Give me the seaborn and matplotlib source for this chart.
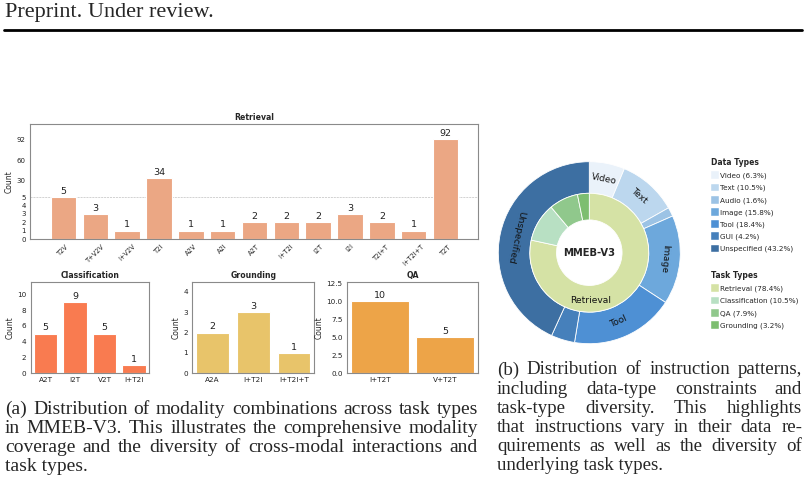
import numpy as np
import pandas as pd
import seaborn as sns
import matplotlib.pyplot as plt
from matplotlib.patches import Patch
from matplotlib.lines import Line2D

# ---- data ----
ret_labels = ["T2V", "T+V2V", "I+V2V", "T2I", "A2V", "A2I", "A2T", "I+T2I", "I2T", "I2I", "T2I+T", "I+T2I+T", "T2T"]
ret_counts = [5, 3, 1, 34, 1, 1, 2, 2, 2, 3, 2, 1, 92]
cls_labels = ["A2T", "I2T", "V2T", "I+T2I"]
cls_counts = [5, 9, 5, 1]
grd_labels = ["A2A", "I+T2I", "I+T2I+T"]
grd_counts = [2, 3, 1]
qa_labels = ["I+T2T", "V+T2T"]
qa_counts = [10, 5]

data_types = ["Video", "Text", "Audio", "Image", "Tool", "GUI", "Unspecified"]
data_pct = [6.3, 10.5, 1.6, 15.8, 18.4, 4.2, 43.2]
task_types = ["Retrieval", "Classification", "QA", "Grounding"]
task_pct = [78.4, 10.5, 7.9, 3.2]

data_colors = ["#EAF2FA", "#BCD7EE", "#9CC3E5", "#6DA8DC", "#4E90D4", "#4680BB", "#3D6FA2"]
task_colors = ["#D5E2A5", "#B8E0C3", "#90C88C", "#7DBE70"]

W, H = 807, 482
sns.set_style("white")
fig = plt.figure(figsize=(W / 100, H / 100), dpi=100)


def box(l, t, r, b):
    return [l / W, 1 - b / H, (r - l) / W, (b - t) / H]


def style_ax(ax, fs=5):
    for s in ax.spines.values():
        s.set_color("#8a8a8a")
        s.set_linewidth(0.8)
    ax.tick_params(labelsize=fs, length=2, width=0.5, colors="#222222", pad=1)


def bars(ax, labels, counts, color, title, ylim, yticks, fs=5.2, width=0.8):
    df = pd.DataFrame({"combo": labels, "count": counts})
    sns.barplot(data=df, x="combo", y="count", ax=ax, color=color, saturation=1,
                width=width, edgecolor="white", linewidth=0.8)
    ax.bar_label(ax.containers[0], fontsize=6.8, padding=1, color="#222222")
    ax.set_title(title, fontsize=5.6, fontweight="bold", pad=3)
    ax.set_xlabel("")
    ax.set_ylabel("Count", fontsize=5.5, labelpad=2)
    ax.set_ylim(0, ylim)
    ax.set_yticks(yticks)
    style_ax(ax, fs)


# ---- Retrieval (piecewise y scale) ----
def fwd(y):
    y = np.asarray(y, dtype=float)
    return np.where(y <= 5, y, 5 + (y - 5) / 12.5)


def inv(y):
    y = np.asarray(y, dtype=float)
    return np.where(y <= 5, y, 5 + (y - 5) * 12.5)


ax_r = fig.add_axes(box(30, 124, 478, 239))
ax_r.set_yscale("function", functions=(fwd, inv))
bars(ax_r, ret_labels, ret_counts, "#EBA784", "Retrieval", 115, [0, 1, 2, 3, 4, 5, 30, 60, 92], fs=5)
ax_r.set_xlim(-1.05, 13.02)
ax_r.axhline(5, ls="--", lw=0.4, color="#b0b0b0", zorder=0)
ax_r.set_xticks(range(len(ret_labels)))
ax_r.set_xticklabels(ret_labels, rotation=45, ha="center", fontsize=4.8)
ax_r.yaxis.set_minor_locator(plt.NullLocator())

ax_c = fig.add_axes(box(30.7, 281.7, 149, 373.3))
bars(ax_c, cls_labels, cls_counts, "#F97B50", "Classification", 11.6, [0, 2, 4, 6, 8, 10])

ax_g = fig.add_axes(box(192.3, 281.7, 314.3, 373.3))
bars(ax_g, grd_labels, grd_counts, "#E8C46A", "Grounding", 4.5, [0, 1, 2, 3, 4])

ax_q = fig.add_axes(box(346.7, 281.7, 478.3, 373.3))
bars(ax_q, qa_labels, qa_counts, "#EDA448", "QA", 12.7, [0, 2.5, 5, 7.5, 10, 12.5], width=0.88)
ax_q.set_yticklabels([f"{v:.1f}" for v in [0, 2.5, 5, 7.5, 10, 12.5]])

# ---- donut ----
cx, cy, R = 589.3, 252.7, 91
ax_p = fig.add_axes(box(cx - 1.1 * R, cy - 1.1 * R, cx + 1.1 * R, cy + 1.1 * R))
outer, _ = ax_p.pie(data_pct, radius=1, colors=data_colors, startangle=90, counterclock=False,
                    wedgeprops=dict(width=0.347, edgecolor="white", linewidth=0.6))
inner, _ = ax_p.pie(task_pct, radius=0.653, colors=task_colors, startangle=90, counterclock=False,
                    wedgeprops=dict(width=0.293, edgecolor="white", linewidth=0.6))
ax_p.set_xlim(-1.1, 1.1)
ax_p.set_ylim(-1.1, 1.1)
ax_p.set_aspect("equal")

for w, name, pct in zip(outer, data_types, data_pct):
    if pct < 5:
        continue
    ang = (w.theta1 + w.theta2) / 2
    r = 0.826
    rot = ang - 90
    if rot < -100:
        rot += 180
    if rot > 180:
        rot -= 360
    ax_p.text(r * np.cos(np.radians(ang)), r * np.sin(np.radians(ang)), name,
              rotation=rot, ha="center", va="center", fontsize=6.6, color="#111111",
              rotation_mode="anchor")
ax_p.text(0.02, -0.52, task_types[0], ha="center", va="center", fontsize=6.6, color="#111111")
ax_p.text(0, 0, "MMEB-V3", ha="center", va="center", fontsize=7.2, fontweight="bold")

legend_kw = dict(loc="upper left", bbox_transform=fig.transFigure, frameon=False, fontsize=5.2,
                 title_fontsize=5.5, alignment="left", handlelength=1.1, handleheight=1.3,
                 handletextpad=0.2, labelspacing=0.6, borderpad=0, borderaxespad=0)
h1 = [Patch(facecolor=c, edgecolor="white", linewidth=0.3) for c in data_colors]
l1 = [f"{n} ({p}%)" for n, p in zip(data_types, data_pct)]
leg1 = ax_p.legend(h1, l1, title="Data Types", bbox_to_anchor=(711 / W, 1 - 158 / H), **legend_kw)
leg1.get_title().set_fontweight("bold")
ax_p.add_artist(leg1)
h2 = [Patch(facecolor=c, edgecolor="white", linewidth=0.3) for c in task_colors]
l2 = [f"{n} ({p}%)" for n, p in zip(task_types, task_pct)]
leg2 = ax_p.legend(h2, l2, title="Task Types", bbox_to_anchor=(711 / W, 1 - 271 / H), **legend_kw)
leg2.get_title().set_fontweight("bold")

# ---- page text ----
serif = "Liberation Serif"
fig.text(5 / W, 1 - 12 / H, "Preprint. Under review.", fontsize=16, family=serif, va="center")
fig.add_artist(Line2D([4 / W, 802 / W], [1 - 29.5 / H] * 2, lw=2, color="black"))

renderer = fig.canvas.get_renderer()


def justify(lines, x0, x1, y0, dy, fs):
    for i, line in enumerate(lines):
        y = 1 - (y0 + i * dy) / H
        words = line.split()
        if i == len(lines) - 1:
            fig.text(x0 / W, y, line, fontsize=fs, family=serif, va="center")
            continue
        texts = [fig.text(0, y, wd, fontsize=fs, family=serif, va="center") for wd in words]
        widths = [t.get_window_extent(renderer).width for t in texts]
        gap = (x1 - x0 - sum(widths)) / (len(words) - 1)
        x = x0
        for t, wd in zip(texts, widths):
            t.set_x(x / W)
            x += wd + gap


cap_a = ["(a) Distribution of modality combinations across task types",
         "in MMEB-V3. This illustrates the comprehensive modality",
         "coverage and the diversity of cross-modal interactions and",
         "task types."]
cap_b = ["(b) Distribution of instruction patterns,",
         "including data-type constraints and",
         "task-type diversity.  This highlights",
         "that instructions vary in their data re-",
         "quirements as well as the diversity of",
         "underlying task types."]
justify(cap_a, 5, 478, 409, 19.1, 14.0)
justify(cap_b, 497, 802, 370, 19.2, 13.6)

fig.savefig("out.png", dpi=100)
